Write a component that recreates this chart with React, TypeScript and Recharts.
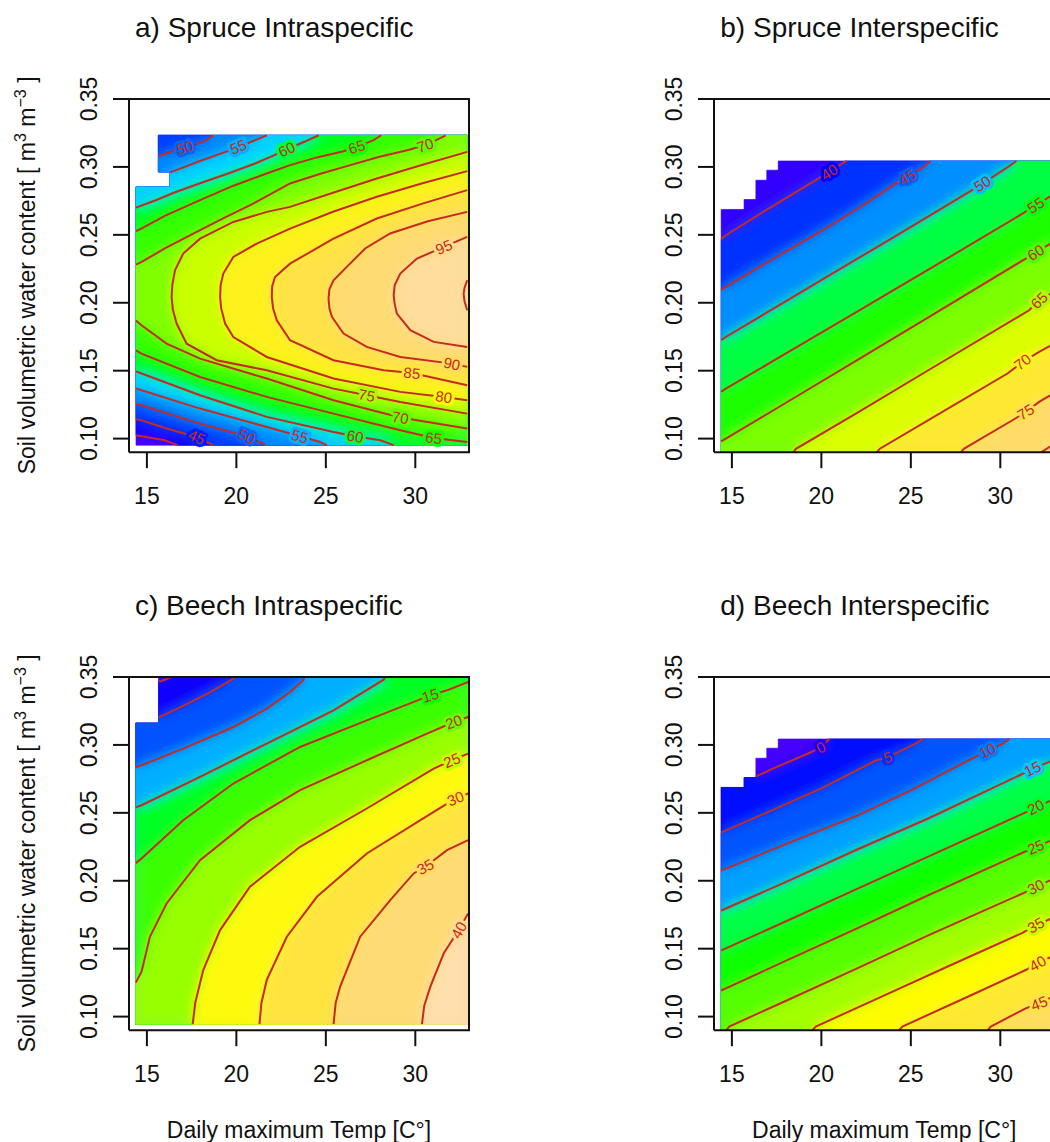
import React from "react";
import { ScatterChart, Scatter, XAxis, YAxis } from "recharts";

type P = [number, number];
type Piece = { z: number; pts: P[] };
type Lab = { z: number; x: number; y: number };

const FONT = "'Liberation Sans', Arial, Helvetica, sans-serif";
const RED = "#c62a20";

const xTicks = [15, 20, 25, 30];
const yTicks = [0.1, 0.15, 0.2, 0.25, 0.3, 0.35];
const xDomain = [14, 33];
const yDomain = [0.09, 0.35];

// ---------- a) Spruce intraspecific ----------
const aEdge: P[] = [[14.39, 0.0952], [14.39, 0.2853], [16.29, 0.2853], [16.29, 0.2963], [15.64, 0.2963], [15.64, 0.3233], [32.9, 0.3233], [32.9, 0.0952]];
const a40: P[] = [[14.39, 0.1025], [14.7, 0.1017], [16.0, 0.0988], [16.7, 0.0952]];
const a45: P[] = [[14.39, 0.1143], [14.7, 0.1135], [16.1, 0.1074], [17.78, 0.1012], [18.71, 0.0952]];
const a50lo: P[] = [[14.39, 0.1255], [14.7, 0.1245], [17.97, 0.111], [20.58, 0.1017], [21.51, 0.0963], [21.6, 0.0952]];
const a50hi: P[] = [[15.64, 0.308], [16.5, 0.3118], [17.5, 0.3158], [18.25, 0.319], [18.7, 0.3233]];
const a55lo: P[] = [[14.39, 0.137], [14.7, 0.1356], [17.97, 0.1221], [21.7, 0.1086], [23.56, 0.1017], [24.68, 0.0975], [25.06, 0.0952]];
const a55hi: P[] = [[16.29, 0.296], [17.0, 0.2995], [18.0, 0.3045], [19.0, 0.3092], [19.55, 0.3118], [20.3, 0.3158], [21.2, 0.3205], [21.7, 0.3233]];
const a60lo: P[] = [[14.39, 0.1495], [14.7, 0.1479], [17.97, 0.1319], [21.7, 0.116], [25.43, 0.1049], [26.64, 0.1017], [28.04, 0.0988], [28.79, 0.0952]];
const a60hi: P[] = [[14.39, 0.27], [15.5, 0.2755], [16.5, 0.281], [17.97, 0.288], [19.5, 0.295], [21.05, 0.3025], [22.0, 0.308], [22.82, 0.313], [23.8, 0.3185], [24.6, 0.3233]];
const a65lo: P[] = [[14.39, 0.165], [14.7, 0.1626], [17.97, 0.1454], [21.7, 0.1307], [25.43, 0.1184], [29.16, 0.1061], [31.03, 0.1005], [32.9, 0.0975]];
const a65hi: P[] = [[14.39, 0.2527], [14.71, 0.2547], [16.0, 0.264], [17.97, 0.2755], [19.8, 0.286], [21.7, 0.2952], [23.0, 0.3013], [24.5, 0.307], [25.99, 0.3116], [27.0, 0.316], [27.66, 0.3197], [28.1, 0.3233]];
const a70lo: P[] = [[14.39, 0.187], [14.7, 0.1834], [16.1, 0.1699], [17.97, 0.1589], [21.7, 0.1442], [25.43, 0.1282], [29.16, 0.1155], [32.9, 0.1074]];
const a70hi: P[] = [[14.39, 0.228], [14.71, 0.2301], [16.0, 0.24], [17.97, 0.2534], [19.4, 0.263], [20.77, 0.2718], [23.0, 0.2878], [24.7, 0.295], [26.36, 0.3013], [28.0, 0.3075], [29.72, 0.3128], [30.83, 0.3175], [31.7, 0.3233]];
const a75: P[] = [[32.9, 0.3111], [30.5, 0.302], [27.85, 0.2915], [25.4, 0.281], [23.0, 0.2706], [21.7, 0.2669], [19.83, 0.2595], [17.97, 0.2472], [17.03, 0.2362], [16.57, 0.2239], [16.42, 0.213], [16.38, 0.2043], [16.45, 0.195], [16.66, 0.1847], [17.22, 0.1699], [18.9, 0.1577], [21.7, 0.1503], [25.43, 0.1368], [27.29, 0.1319], [29.16, 0.127], [32.9, 0.1184]];
const a80: P[] = [[32.9, 0.2969], [30.4, 0.288], [27.85, 0.278], [25.4, 0.267], [23.0, 0.2546], [21.14, 0.2436], [19.83, 0.2337], [19.27, 0.2215], [19.12, 0.213], [19.09, 0.2043], [19.15, 0.196], [19.37, 0.1847], [19.83, 0.1748], [21.7, 0.1601], [25.43, 0.1442], [29.16, 0.1344], [31.59, 0.1307], [32.9, 0.1282]];
const a85: P[] = [[32.9, 0.2829], [30.4, 0.273], [27.85, 0.262], [25.4, 0.247], [23.0, 0.2288], [22.16, 0.219], [22.0, 0.212], [21.98, 0.2043], [22.05, 0.196], [22.26, 0.1871], [23.0, 0.1724], [25.43, 0.1577], [28.23, 0.1503], [29.81, 0.1483], [32.9, 0.1393]];
const a90: P[] = [[32.9, 0.2669], [30.7, 0.26], [28.59, 0.251], [27.2, 0.24], [26.17, 0.2264], [25.43, 0.2166], [25.2, 0.21], [25.15, 0.2031], [25.2, 0.196], [25.34, 0.1896], [25.99, 0.1773], [27.29, 0.1675], [29.16, 0.1601], [32.05, 0.1552], [32.9, 0.1528]];
const a95: P[] = [[32.9, 0.2485], [31.59, 0.2411], [30.09, 0.2325], [29.16, 0.2215], [28.85, 0.213], [28.79, 0.2055], [28.85, 0.199], [28.97, 0.192], [29.72, 0.1798], [31.03, 0.1712], [32.9, 0.1675]];
const a100: P[] = [[32.9, 0.2166], [32.75, 0.211], [32.7, 0.2067], [32.75, 0.201], [32.9, 0.1945]];
const aLabels: Lab[] = [
  { z: 50, x: 17.13, y: 0.3143 }, { z: 55, x: 20.11, y: 0.3148 }, { z: 60, x: 22.82, y: 0.313 },
  { z: 65, x: 26.73, y: 0.3148 }, { z: 70, x: 30.55, y: 0.316 }, { z: 95, x: 31.59, y: 0.2411 },
  { z: 90, x: 32.05, y: 0.1552 }, { z: 85, x: 29.81, y: 0.1483 }, { z: 80, x: 31.59, y: 0.1307 },
  { z: 75, x: 27.29, y: 0.1319 }, { z: 70, x: 29.16, y: 0.1155 }, { z: 65, x: 31.03, y: 0.1005 },
  { z: 60, x: 26.64, y: 0.1017 }, { z: 55, x: 23.56, y: 0.1017 }, { z: 50, x: 20.58, y: 0.1017 },
  { z: 45, x: 17.78, y: 0.1012 },
];

// ---------- b) Spruce interspecific ----------
const bEdge: P[] = [[14.4, 0.09], [14.4, 0.2687], [15.68, 0.2687], [15.68, 0.276], [16.34, 0.276], [16.34, 0.2902], [16.95, 0.2902], [16.95, 0.2976], [17.59, 0.2976], [17.59, 0.3044], [33, 0.3044], [33, 0.09]];
const b40: P[] = [[14.4, 0.247], [14.66, 0.2497], [17.0, 0.269], [19.69, 0.2902], [20.44, 0.2963], [21.4, 0.3044]];
const b45: P[] = [[14.4, 0.2095], [14.66, 0.2117], [17.0, 0.23], [20.0, 0.253], [22.0, 0.269], [24.07, 0.2872], [24.81, 0.2926], [25.65, 0.2995], [26.1, 0.3044]];
const b50: P[] = [[14.4, 0.1726], [14.66, 0.1748], [18.0, 0.201], [21.0, 0.2245], [24.0, 0.248], [28.26, 0.2816], [29.0, 0.2877], [30.49, 0.3005], [30.9, 0.3044]];
const b55: P[] = [[14.4, 0.1345], [14.66, 0.1368], [18.0, 0.1625], [22.0, 0.1935], [26.0, 0.2245], [31.24, 0.2656], [31.98, 0.2718], [33, 0.28]];
const b60: P[] = [[14.4, 0.098], [14.66, 0.1], [18.0, 0.1262], [22.0, 0.1578], [26.0, 0.1895], [31.42, 0.2325], [31.98, 0.237], [33, 0.245]];
const b65: P[] = [[18.45, 0.09], [18.58, 0.0925], [22.0, 0.119], [26.0, 0.1505], [31.61, 0.1945], [32.17, 0.2018], [33, 0.208]];
const b70: P[] = [[23.1, 0.09], [23.27, 0.0926], [27.0, 0.1215], [30.4, 0.1479], [31.24, 0.1564], [32.17, 0.1638], [33, 0.17]];
const b75: P[] = [[27.8, 0.09], [27.98, 0.0926], [30.68, 0.1135], [31.42, 0.1196], [32.17, 0.127], [33, 0.1335]];
const b80: P[] = [[32.3, 0.09], [33, 0.096]];
const bLabels: Lab[] = [
  { z: 40, x: 20.44, y: 0.2963 }, { z: 45, x: 24.81, y: 0.2926 }, { z: 50, x: 29.0, y: 0.2877 },
  { z: 55, x: 31.98, y: 0.2718 }, { z: 60, x: 31.98, y: 0.237 }, { z: 65, x: 32.17, y: 0.2018 },
  { z: 70, x: 31.24, y: 0.1564 }, { z: 75, x: 31.42, y: 0.1196 },
];

// ---------- c) Beech intraspecific ----------
const cEdge: P[] = [[14.38, 0.0944], [14.38, 0.3162], [15.65, 0.3162], [15.65, 0.35], [32.95, 0.35], [32.95, 0.0944]];
const cm5: P[] = [[15.65, 0.3466], [15.82, 0.3471], [16.29, 0.3495], [16.35, 0.35]];
const c0: P[] = [[15.65, 0.3205], [15.91, 0.3218], [17.0, 0.3285], [18.5, 0.3385], [19.83, 0.3488], [19.9, 0.35]];
const c5: P[] = [[14.38, 0.2835], [14.7, 0.285], [17.03, 0.2973], [19.83, 0.3132], [21.7, 0.3267], [23.0, 0.339], [23.75, 0.3476], [23.8, 0.35]];
const c10: P[] = [[14.38, 0.254], [14.7, 0.2556], [17.97, 0.2765], [21.7, 0.301], [25.43, 0.3255], [28.23, 0.348], [28.3, 0.35]];
const c15: P[] = [[14.38, 0.213], [14.7, 0.2164], [17.03, 0.2446], [19.83, 0.2716], [23.56, 0.2985], [27.29, 0.3181], [30.84, 0.3365], [31.77, 0.3402], [32.95, 0.3463]];
const c20: P[] = [[14.38, 0.125], [14.7, 0.1331], [15.17, 0.1588], [16.1, 0.1833], [17.97, 0.2152], [20.76, 0.2446], [23.56, 0.2667], [27.29, 0.2887], [30.65, 0.3083], [32.15, 0.3169], [32.95, 0.3206]];
const c25: P[] = [[17.56, 0.0944], [17.7, 0.11], [18.15, 0.1343], [19.09, 0.1637], [20.76, 0.1956], [23.56, 0.225], [27.29, 0.2532], [31.03, 0.2826], [32.05, 0.2887], [32.95, 0.2936]];
const c30: P[] = [[21.29, 0.0944], [21.4, 0.11], [21.7, 0.127], [22.82, 0.1588], [24.5, 0.1882], [27.29, 0.2201], [31.03, 0.2507], [32.24, 0.2605], [32.95, 0.2642]];
const c35: P[] = [[25.43, 0.0944], [25.55, 0.11], [25.8, 0.1221], [26.92, 0.1588], [28.6, 0.1858], [29.91, 0.2054], [30.56, 0.2103], [31.77, 0.2225], [32.95, 0.2299]];
const c40: P[] = [[30.37, 0.0944], [30.5, 0.108], [30.84, 0.1221], [31.59, 0.1466], [32.43, 0.1637], [32.95, 0.176]];
const cLabels: Lab[] = [
  { z: 15, x: 30.84, y: 0.3365 }, { z: 20, x: 32.15, y: 0.3169 }, { z: 25, x: 32.05, y: 0.2887 },
  { z: 30, x: 32.24, y: 0.2605 }, { z: 35, x: 30.56, y: 0.2103 }, { z: 40, x: 32.43, y: 0.1637 },
];

// ---------- d) Beech interspecific ----------
const dEdge: P[] = bEdge;
const d0: P[] = [[16.34, 0.2768], [17.5, 0.2838], [19.41, 0.2946], [19.97, 0.2983], [20.45, 0.3044]];
const d5: P[] = [[14.4, 0.2355], [14.66, 0.2371], [17.0, 0.2505], [20.0, 0.268], [23.04, 0.2885], [23.7, 0.2909], [25.28, 0.3012], [25.7, 0.3044]];
const d10: P[] = [[14.4, 0.2075], [14.66, 0.2089], [18.0, 0.227], [22.0, 0.248], [25.0, 0.2665], [28.54, 0.2909], [29.28, 0.2958], [30.12, 0.3007], [30.5, 0.3044]];
const d15: P[] = [[14.4, 0.178], [14.66, 0.1796], [18.0, 0.199], [22.0, 0.223], [26.0, 0.246], [31.05, 0.2775], [31.8, 0.2824], [33, 0.289]];
const d20: P[] = [[14.4, 0.1488], [14.66, 0.1502], [18.0, 0.17], [22.0, 0.194], [26.0, 0.218], [31.24, 0.2493], [31.98, 0.2542], [33, 0.26]];
const d25: P[] = [[14.4, 0.1192], [14.66, 0.1208], [18.0, 0.141], [22.0, 0.165], [26.0, 0.1895], [31.33, 0.2212], [31.98, 0.2248], [33, 0.2305]];
const d30: P[] = [[14.7, 0.09], [14.85, 0.0927], [18.0, 0.1115], [22.0, 0.1355], [26.0, 0.16], [31.24, 0.1906], [31.98, 0.1955], [33, 0.2015]];
const d35: P[] = [[19.5, 0.09], [19.69, 0.0927], [23.0, 0.1125], [27.0, 0.1365], [31.24, 0.1617], [31.98, 0.1673], [33, 0.173]];
const d40: P[] = [[24.35, 0.09], [24.53, 0.0927], [28.0, 0.1135], [31.42, 0.1343], [32.08, 0.1392], [33, 0.145]];
const d45: P[] = [[29.3, 0.09], [29.47, 0.0927], [31.42, 0.1061], [32.17, 0.1098], [33, 0.115]];
const dLabels: Lab[] = [
  { z: 0, x: 19.97, y: 0.2983 }, { z: 5, x: 23.7, y: 0.2909 }, { z: 10, x: 29.28, y: 0.2958 },
  { z: 15, x: 31.8, y: 0.2824 }, { z: 20, x: 31.98, y: 0.2542 }, { z: 25, x: 31.98, y: 0.2248 },
  { z: 30, x: 31.98, y: 0.1955 }, { z: 35, x: 31.98, y: 0.1673 }, { z: 40, x: 32.08, y: 0.1392 },
  { z: 45, x: 32.17, y: 0.1098 },
];

const rev = (a: P[]) => [...a].reverse();

// areas above each level, built from contour pieces plus the border of the data region
const aRim: P[] = [[32.9, 0.0952], [32.9, 0.3233]];
const aNotch: P[] = [[15.64, 0.2963], [16.29, 0.2963], [16.29, 0.2853], [14.39, 0.2853]];
const aLines: Piece[] = [
  { z: 40, pts: a40 }, { z: 45, pts: a45 }, { z: 50, pts: a50lo }, { z: 50, pts: a50hi },
  { z: 55, pts: a55lo }, { z: 55, pts: a55hi }, { z: 60, pts: a60lo }, { z: 60, pts: a60hi },
  { z: 65, pts: a65lo }, { z: 65, pts: a65hi }, { z: 70, pts: a70lo }, { z: 70, pts: a70hi },
  { z: 75, pts: a75 }, { z: 80, pts: a80 }, { z: 85, pts: a85 }, { z: 90, pts: a90 },
  { z: 95, pts: a95 }, { z: 100, pts: a100 },
];
const aFills: Piece[] = [
  { z: 40, pts: [...a40, ...aRim, [15.64, 0.3233], ...aNotch] },
  { z: 45, pts: [...a45, ...aRim, [15.64, 0.3233], ...aNotch] },
  { z: 50, pts: [...a50lo, ...aRim, ...rev(a50hi), ...aNotch] },
  { z: 55, pts: [...a55lo, ...aRim, ...rev(a55hi), [16.29, 0.2853], [14.39, 0.2853]] },
  { z: 60, pts: [...a60lo, ...aRim, ...rev(a60hi)] },
  { z: 65, pts: [...a65lo, ...aRim, ...rev(a65hi)] },
  { z: 70, pts: [...a70lo, ...aRim, ...rev(a70hi)] },
  { z: 75, pts: a75 }, { z: 80, pts: a80 }, { z: 85, pts: a85 },
  { z: 90, pts: a90 }, { z: 95, pts: a95 }, { z: 100, pts: a100 },
];

const bLines: Piece[] = [
  { z: 40, pts: b40 }, { z: 45, pts: b45 }, { z: 50, pts: b50 }, { z: 55, pts: b55 }, { z: 60, pts: b60 },
  { z: 65, pts: b65 }, { z: 70, pts: b70 }, { z: 75, pts: b75 }, { z: 80, pts: b80 },
];
const bTop: P[] = [[33, 0.3044], [33, 0.09], [14.4, 0.09]];
const bSide: P[] = [[33, 0.09], [14.4, 0.09]];
const bFills: Piece[] = [
  { z: 40, pts: [...b40, ...bTop] }, { z: 45, pts: [...b45, ...bTop] }, { z: 50, pts: [...b50, ...bTop] },
  { z: 55, pts: [...b55, ...bSide] }, { z: 60, pts: [...b60, ...bSide] },
  { z: 65, pts: [...b65, [33, 0.09]] }, { z: 70, pts: [...b70, [33, 0.09]] },
  { z: 75, pts: [...b75, [33, 0.09]] }, { z: 80, pts: [...b80, [33, 0.09]] },
];

const cLines: Piece[] = [
  { z: -5, pts: cm5 }, { z: 0, pts: c0 }, { z: 5, pts: c5 }, { z: 10, pts: c10 }, { z: 15, pts: c15 },
  { z: 20, pts: c20 }, { z: 25, pts: c25 }, { z: 30, pts: c30 }, { z: 35, pts: c35 }, { z: 40, pts: c40 },
];
const cAll: P[] = [[32.95, 0.35], [32.95, 0.0944], [14.38, 0.0944], [14.38, 0.3162], [15.65, 0.3162]];
const cTop: P[] = [[32.95, 0.35], [32.95, 0.0944], [14.38, 0.0944]];
const cSide: P[] = [[32.95, 0.0944], [14.38, 0.0944]];
const cFills: Piece[] = [
  { z: -5, pts: [...cm5, ...cAll] }, { z: 0, pts: [...c0, ...cAll] },
  { z: 5, pts: [...c5, ...cTop] }, { z: 10, pts: [...c10, ...cTop] },
  { z: 15, pts: [...c15, ...cSide] }, { z: 20, pts: [...c20, ...cSide] },
  { z: 25, pts: [...c25, [32.95, 0.0944]] }, { z: 30, pts: [...c30, [32.95, 0.0944]] },
  { z: 35, pts: [...c35, [32.95, 0.0944]] }, { z: 40, pts: [...c40, [32.95, 0.0944]] },
];

const dLines: Piece[] = [
  { z: 0, pts: d0 }, { z: 5, pts: d5 }, { z: 10, pts: d10 }, { z: 15, pts: d15 }, { z: 20, pts: d20 },
  { z: 25, pts: d25 }, { z: 30, pts: d30 }, { z: 35, pts: d35 }, { z: 40, pts: d40 }, { z: 45, pts: d45 },
];
const dFills: Piece[] = [
  { z: 0, pts: [...d0, [33, 0.3044], [33, 0.09], [14.4, 0.09], [14.4, 0.2687], [15.68, 0.2687], [15.68, 0.276], [16.34, 0.276]] },
  { z: 5, pts: [...d5, ...bTop] }, { z: 10, pts: [...d10, ...bTop] },
  { z: 15, pts: [...d15, ...bSide] }, { z: 20, pts: [...d20, ...bSide] }, { z: 25, pts: [...d25, ...bSide] },
  { z: 30, pts: [...d30, [33, 0.09]] }, { z: 35, pts: [...d35, [33, 0.09]] },
  { z: 40, pts: [...d40, [33, 0.09]] }, { z: 45, pts: [...d45, [33, 0.09]] },
];

const frame: P[] = [[14, 0.09], [33, 0.09], [33, 0.35], [14, 0.35], [14, 0.09]];

// R topo.colors as a continuous scale
function hsv(h: number, s: number, v: number) {
  const i = Math.floor(h * 6) % 6;
  const f = h * 6 - Math.floor(h * 6);
  const p = v * (1 - s), q = v * (1 - f * s), t = v * (1 - (1 - f) * s);
  const rgb = [[v, t, p], [q, v, p], [p, v, t], [p, q, v], [t, p, v], [v, p, q]][i];
  return `rgb(${rgb.map((c) => Math.round(c * 255)).join(",")})`;
}
function topo(z: number, lo: number, hi: number) {
  const t = Math.min(1, Math.max(0, (z - lo) / (hi - lo)));
  if (t < 1 / 3) return hsv(43 / 60 - (12 / 60) * t * 3, 1, 1);
  if (t < 2 / 3) return hsv(23 / 60 - (12 / 60) * (t - 1 / 3) * 3, 1, 1);
  const u = (t - 2 / 3) * 3;
  return hsv(10 / 60 - (4 / 60) * u, 1 - 0.7 * u, 1);
}

const BOX_W = 340;
const BOX_H = 353.2;
const KX = BOX_W / 19;
const KY = BOX_H / 0.26;

const xy = (a: P[]) => a.map(([x, y]) => ({ x, y }));
const Nothing = () => <g />;
const toPath = (pts: { x: number; y: number }[]) =>
  pts.map((q, i) => `${i ? "L" : "M"}${q.x},${q.y}`).join("") + "Z";

// one layer for the coloured field: sharp bands underneath, softened copy on top
const fieldLayer = (sizes: number[], colors: string[], uid: string) => (lp: any) => {
  const pts = lp.points as { x: number; y: number }[];
  let k = 0;
  const paths = sizes.map((n, i) => {
    const d = toPath(pts.slice(k, k + n));
    k += n;
    return { d, c: colors[i] };
  });
  return (
    <g>
      <defs>
        <filter id={`soft${uid}`} x="-10%" y="-10%" width="120%" height="120%">
          <feGaussianBlur stdDeviation={6} />
        </filter>
        <clipPath id={`clip${uid}`}>
          <path d={paths[0].d} />
        </clipPath>
      </defs>
      {paths.map((p, i) => (
        <path key={`s${i}`} d={p.d} fill={p.c} stroke={p.c} strokeWidth={0.6} />
      ))}
      <g clipPath={`url(#clip${uid})`}>
        <g filter={`url(#soft${uid})`}>
          {paths.map((p, i) => (
            <path key={`b${i}`} d={p.d} fill={p.c} />
          ))}
        </g>
      </g>
    </g>
  );
};

// rotation of a contour label follows the nearest segment of its line
function labelAngle(lab: Lab, lines: Piece[]) {
  let best = Infinity, ang = 0;
  lines.filter((l) => l.z === lab.z).forEach((l) => {
    for (let i = 0; i < l.pts.length - 1; i++) {
      const [x1, y1] = l.pts[i], [x2, y2] = l.pts[i + 1];
      const mx = ((x1 + x2) / 2 - lab.x) * KX, my = ((y1 + y2) / 2 - lab.y) * KY;
      const dist = mx * mx + my * my;
      if (dist < best) {
        best = dist;
        let a = (Math.atan2(-(y2 - y1) * KY, (x2 - x1) * KX) * 180) / Math.PI;
        if (a > 90) a -= 180;
        if (a < -90) a += 180;
        ang = a;
      }
    }
  });
  return ang;
}

const XTick = (props: any) => (
  <text x={props.x} y={props.y + 36} textAnchor="middle" fontSize={23} fontFamily={FONT} fill="#111">
    {props.payload.value}
  </text>
);
const YTick = (props: any) => (
  <text
    transform={`translate(${props.x - 16},${props.y}) rotate(-90)`}
    textAnchor="middle"
    fontSize={23}
    fontFamily={FONT}
    fill="#111"
  >
    {Number(props.payload.value).toFixed(2)}
  </text>
);

type PanelProps = {
  id: string;
  left: number;
  top: number;
  edge: P[];
  fills: Piece[];
  lines: Piece[];
  labels: Lab[];
  lo: number;
  hi: number;
};

function Panel({ id, left, top, edge, fills, lines, labels, lo, hi }: PanelProps) {
  const labelData = labels.map((l) => ({ ...l, r: labelAngle(l, lines) }));
  const baseZ = Math.min(...fills.map((f) => f.z)) - 2.5;
  const polys = [edge, ...fills.map((f) => f.pts)];
  const colors = [topo(baseZ, lo, hi), ...fills.map((f) => topo(f.z + 2.5, lo, hi))];
  const fieldData = xy(polys.flat());
  const labelShape = (sp: any) => {
    const { cx, cy, payload } = sp;
    const bg = topo(payload.z, lo, hi);
    return (
      <g transform={`translate(${cx},${cy}) rotate(${payload.r})`}>
        <text
          textAnchor="middle"
          y={5.4}
          fontSize={15}
          fontFamily={FONT}
          fill={RED}
          stroke={bg}
          strokeWidth={6}
          strokeLinejoin="round"
          paintOrder="stroke"
        >
          {String(payload.z)}
        </text>
      </g>
    );
  };
  return (
    <div style={{ position: "absolute", left: left - 70, top: top - 40 }}>
      <ScatterChart
        width={70 + BOX_W + 20}
        height={40 + BOX_H + 60 + 10}
        margin={{ top: 40, right: 20, bottom: 10, left: 20 }}
      >
        <XAxis
          type="number"
          dataKey="x"
          domain={xDomain}
          ticks={xTicks}
          interval={0}
          tickSize={16}
          tickMargin={0}
          axisLine={false}
          tickLine={{ stroke: "#111", strokeWidth: 2 }}
          tick={XTick}
          height={60}
        />
        <YAxis
          type="number"
          dataKey="y"
          domain={yDomain}
          ticks={yTicks}
          interval={0}
          tickSize={16}
          tickMargin={0}
          axisLine={false}
          tickLine={{ stroke: "#111", strokeWidth: 2 }}
          tick={YTick}
          width={50}
        />
        <Scatter
          data={fieldData}
          shape={Nothing}
          line={fieldLayer(polys.map((p) => p.length), colors, id)}
          lineType="joint"
          isAnimationActive={false}
        />
        {lines.map((l, i) => (
          <Scatter
            key={`l${i}`}
            data={xy(l.pts)}
            shape={Nothing}
            line={{ stroke: RED, strokeWidth: 2, fill: "none" }}
            lineType="joint"
            isAnimationActive={false}
          />
        ))}
        <Scatter data={labelData} shape={labelShape} isAnimationActive={false} />
        <Scatter data={xy(frame)} shape={Nothing} line={{ stroke: "#111", strokeWidth: 2, fill: "none" }} lineType="joint" isAnimationActive={false} />
      </ScatterChart>
    </div>
  );
}

const YLabel = ({ cx, cy }: { cx: number; cy: number }) => (
  <text transform={`translate(${cx},${cy}) rotate(-90)`} textAnchor="middle" fontSize={23} fontFamily={FONT} fill="#111">
    Soil volumetric water content [ m<tspan dy={-9} fontSize={16}>3</tspan>
    <tspan dy={9}> m</tspan>
    <tspan dy={-9} fontSize={16}>−3</tspan>
    <tspan dy={9}> ]</tspan>
  </text>
);

export default function App() {
  const aL = 129, bL = 714.3, topT = 98.8, botT = 676.7;
  return (
    <div style={{ position: "absolute", left: 0, top: 0, width: 1050, height: 1142, overflow: "hidden", background: "#fff" }}>
      <Panel id="a" left={aL} top={topT} edge={aEdge} fills={aFills} lines={aLines} labels={aLabels} lo={38} hi={100} />
      <Panel id="b" left={bL} top={topT} edge={bEdge} fills={bFills} lines={bLines} labels={bLabels} lo={36} hi={84} />
      <Panel id="c" left={aL} top={botT} edge={cEdge} fills={cFills} lines={cLines} labels={cLabels} lo={-6} hi={43} />
      <Panel id="d" left={bL} top={botT} edge={dEdge} fills={dFills} lines={dLines} labels={dLabels} lo={-3} hi={57} />
      <svg width={1050} height={1142} style={{ position: "absolute", left: 0, top: 0, pointerEvents: "none" }}>
        <g fontFamily={FONT} fill="#111" fontSize={28} style={{ whiteSpace: "pre" }}>
          <text x={aL + 6} y={37}>a) Spruce Intraspecific</text>
          <text x={bL + 6} y={37}>b) Spruce Interspecific</text>
          <text x={aL + 6} y={615}>{"c)  Beech Intraspecific"}</text>
          <text x={bL + 6} y={615}>{"d)  Beech Interspecific"}</text>
        </g>
        <g fontFamily={FONT} fill="#111" fontSize={23} textAnchor="middle">
          <text x={aL + BOX_W / 2} y={1138}>Daily maximum Temp [C°]</text>
          <text x={bL + BOX_W / 2} y={1138}>Daily maximum Temp [C°]</text>
        </g>
        <YLabel cx={35} cy={topT + BOX_H / 2} />
        <YLabel cx={35} cy={botT + BOX_H / 2} />
      </svg>
    </div>
  );
}
